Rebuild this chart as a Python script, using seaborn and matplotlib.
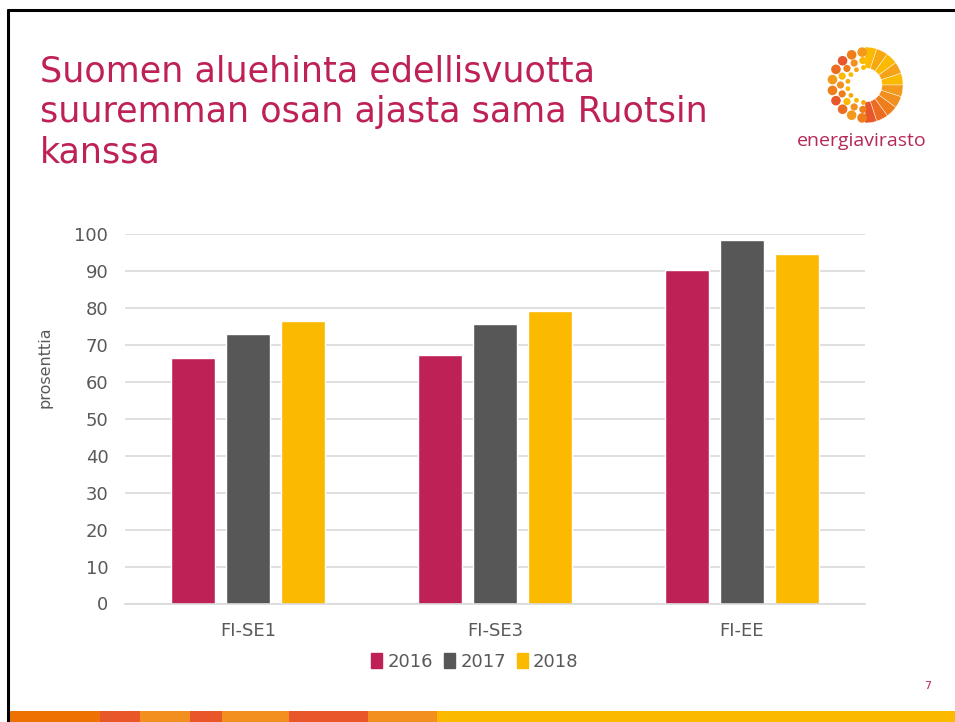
import matplotlib
matplotlib.use("Agg")
import matplotlib.pyplot as plt
import matplotlib.patches as mpatches
import numpy as np
import pandas as pd
import seaborn as sns

# data (percent of time)
connections = ["FI-SE1", "FI-SE3", "FI-EE"]
years = ["2016", "2017", "2018"]
share_2016 = [66.4, 67.2, 90.2]
share_2017 = [72.9, 75.6, 98.5]
share_2018 = [76.4, 79.2, 94.5]

colors = {"2016": "#BE2156", "2017": "#575757", "2018": "#FBB900"}
crimson = "#BE2156"
grey_txt = "#595959"

df = pd.DataFrame({
    "yhteys": connections * 3,
    "vuosi": [y for y in years for _ in connections],
    "osuus": share_2016 + share_2017 + share_2018,
})

sns.set_style("white")
plt.rcParams["font.family"] = ["DejaVu Sans"]

W, H = 955, 722
fig = plt.figure(figsize=(W / 100, H / 100), dpi=100)
fig.patch.set_facecolor("white")

def fx(px):
    return px / W

def fy(py):
    return 1 - py / H

ax = fig.add_axes([fx(125), fy(603.5), fx(865) - fx(125), fy(234) - fy(603.5)])
sns.barplot(data=df, x="yhteys", y="osuus", hue="vuosi", palette=colors,
            width=0.67, gap=0.2, ax=ax, legend=False, saturation=1)
ax.set_xlim(-0.5, 2.5)
ax.set_ylim(0, 100)
ax.set_yticks(range(0, 101, 10))
ax.yaxis.grid(True, color="#D9D9D9", linewidth=1.2)
ax.set_axisbelow(True)
for s in ["top", "right", "left"]:
    ax.spines[s].set_visible(False)
ax.spines["bottom"].set_color("#D9D9D9")
ax.spines["bottom"].set_linewidth(1.2)
ax.tick_params(axis="y", length=0, pad=12, labelsize=13, labelcolor=grey_txt)
ax.tick_params(axis="x", length=0, pad=13, labelsize=13, labelcolor=grey_txt)
ax.set_xlabel("")
ax.set_ylabel("")
fig.text(fx(45), fy(367), "prosenttia", fontsize=11.5, color=grey_txt,
         rotation=90, ha="center", va="center")

handles = [mpatches.Patch(color=colors[y], label=y) for y in years]
leg = fig.legend(handles=handles, loc="center", bbox_to_anchor=(fx(475), fy(662)),
                 ncol=3, frameon=False, fontsize=13, handlelength=0.6,
                 handleheight=0.9, handletextpad=0.3, columnspacing=0.6)
for t in leg.get_texts():
    t.set_color(grey_txt)

# title
title_lines = ["Suomen aluehinta edellisvuotta",
               "suuremman osan ajasta sama Ruotsin",
               "kanssa"]
for i, line in enumerate(title_lines):
    fig.text(fx(40), fy(81.7 + 40.5 * i), line, fontsize=25.2, color=crimson,
             va="baseline", ha="left")

# page number
fig.text(fx(928), fy(686), "7", fontsize=8, color=crimson, ha="center", va="center")

# slide frame (black top/left edges)
fig.add_artist(plt.Line2D([fx(8), fx(8)], [fy(10), 0], color="black", lw=2.2))
fig.add_artist(plt.Line2D([fx(8), 1], [fy(10), fy(10)], color="black", lw=2.2))

# bottom stripe
stripe_edges = [8, 100, 140, 190, 222, 289, 368, 437, 955]
stripe_cols = ["#EE7203", "#E85729", "#F28F1E", "#E85729", "#F28F1E",
               "#E85729", "#F28F1E", "#FBB900"]
for x0, x1, c in zip(stripe_edges[:-1], stripe_edges[1:], stripe_cols):
    fig.add_artist(mpatches.Rectangle((fx(x0), 0), fx(x1) - fx(x0), fy(711),
                                      color=c, transform=fig.transFigure, lw=0))

# logo
lax = fig.add_axes([fx(815), fy(135), fx(100), fy(0) - fy(100)])
lax.set_xlim(-50, 50)
lax.set_ylim(-50, 50)
lax.set_aspect("equal")
lax.axis("off")
wedge_cols = ["#FBB900", "#F7A70F", "#FBB900", "#F5A219", "#FBB900", "#F39A1C",
              "#F28F1E", "#EE7E1A", "#EC6C22", "#E85729"]
n = len(wedge_cols)
for k, c in enumerate(wedge_cols):
    a1 = 90 - k * 180 / n
    a0 = a1 - 180 / n
    lax.add_patch(mpatches.Wedge((0, 0), 38, a0, a1, width=21, color=c, lw=0.3, ec="white"))
dot_rings = [(33, 4.8, 10, ["#F39A1C", "#EE7E1A", "#E85729", "#EC6C22"]),
             (24.5, 3.6, 9, ["#FBB900", "#F28F1E", "#EE7E1A"]),
             (17.5, 2.4, 8, ["#FBB900", "#F7A70F"])]
for r, rad, cnt, cols in dot_rings:
    for j, ang in enumerate(np.linspace(95, 265, cnt)):
        t = np.deg2rad(ang)
        lax.add_patch(mpatches.Circle((r * np.cos(t), r * np.sin(t)), rad,
                                      color=cols[j % len(cols)], lw=0))
fig.text(fx(862), fy(141), "energiavirasto", fontsize=14, color="#B5285A",
         ha="center", va="center", family=["Open Sans", "DejaVu Sans"])

fig.savefig("out.png", dpi=100, facecolor="white")
